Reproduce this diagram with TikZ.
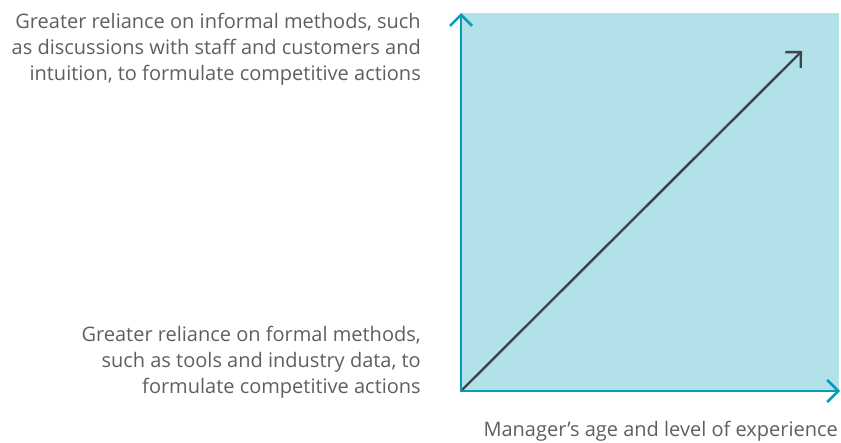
\documentclass[tikz,border=0pt]{standalone}
\usepackage{fontspec}
\setmainfont{Open Sans}
\usepackage{tikz}
\usetikzlibrary{arrows.meta,backgrounds,positioning}
\definecolor{axisteal}{HTML}{0A9BBA}
\definecolor{panelblue}{HTML}{B3E1E9}
\definecolor{diaggray}{HTML}{3F4449}
\definecolor{labelgray}{HTML}{5F5F5F}
\tikzset{
  axis/.style={draw=axisteal,line width=2.6pt,-{Straight Barb[length=11pt,width=22pt,line width=2.6pt]}},
  diag/.style={draw=diaggray,line width=2.4pt,-{Straight Barb[length=11pt,width=22pt,line width=2.4pt]}},
  lbl/.style={text=labelgray,font=\fontsize{20}{26}\selectfont,align=right,inner sep=0pt}
}
\begin{document}
\begin{tikzpicture}[x=1pt,y=-1pt]
\useasboundingbox (0,0) rectangle (841,442);
\fill[panelblue] (461,13) rectangle (839,391);
\coordinate (o) at (461,391);
\coordinate (ytip) at (461,13);
\coordinate (xtip) at (840,391);
\coordinate (dtip) at (802,51);
\draw[diag] (o) -- (dtip);
\draw[axis] ([yshift=-1.3pt]o) -- (ytip);
\draw[axis] ([xshift=-1.3pt]o) -- (xtip);
\node[lbl,anchor=north east] (informal) at (421,13) {Greater reliance on informal methods, such\\as discussions with staff and customers and\\intuition, to formulate competitive actions};
\node[lbl,anchor=south east] (formal) at (421,398) {Greater reliance on formal methods,\\such as tools and industry data, to\\formulate competitive actions};
\node[lbl,anchor=north east] (xlabel) at (838,421) {Manager’s age and level of experience};
\end{tikzpicture}
\end{document}
